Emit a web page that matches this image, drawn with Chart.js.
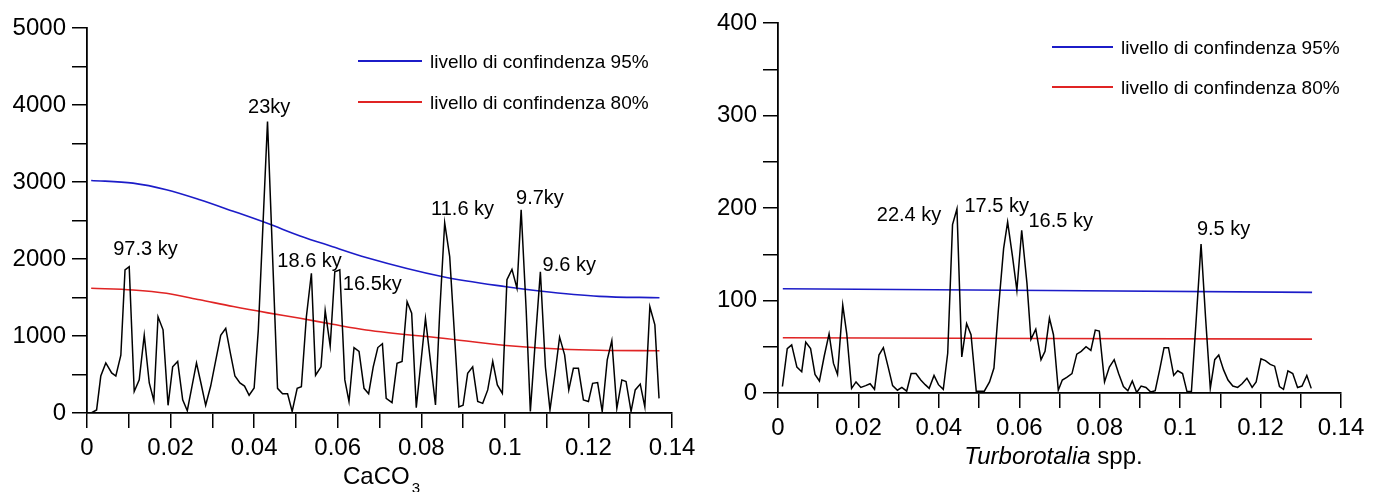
<!DOCTYPE html>
<html>
<head>
<meta charset="utf-8">
<script src="https://cdn.jsdelivr.net/npm/chart.js@4.4.1/dist/chart.umd.min.js"></script>
<style>
  body { margin: 0; background: #fff; }
  canvas { position: absolute; left: 0; top: 0; }
</style>
</head>
<body>
<canvas id="left" width="1381" height="492"></canvas>
<canvas id="right" width="1381" height="492"></canvas>
<script>
// CaCO3 spectrum
const leftFreq = [0.0010, 0.0023, 0.0033, 0.0045, 0.0059, 0.0069, 0.0081, 0.0091, 0.0101, 0.0113,
  0.0125, 0.0137, 0.0149, 0.0160, 0.0170, 0.0182, 0.0194, 0.0205, 0.0217, 0.0229,
  0.0240, 0.0251, 0.0262, 0.0273, 0.0284, 0.0296, 0.0308, 0.0320, 0.0332, 0.0343,
  0.0354, 0.0366, 0.0377, 0.0388, 0.0400, 0.0410, 0.0421, 0.0432, 0.0444, 0.0456,
  0.0468, 0.0480, 0.0491, 0.0503, 0.0513, 0.0525, 0.0537, 0.0547, 0.0560, 0.0570,
  0.0582, 0.0593, 0.0605, 0.0617, 0.0627, 0.0639, 0.0651, 0.0663, 0.0674, 0.0685,
  0.0696, 0.0707, 0.0716, 0.0730, 0.0742, 0.0754, 0.0766, 0.0777, 0.0788, 0.0799,
  0.0810, 0.0822, 0.0834, 0.0844, 0.0856, 0.0868, 0.0879, 0.0890, 0.0900, 0.0911,
  0.0923, 0.0935, 0.0947, 0.0959, 0.0971, 0.0982, 0.0994, 0.1005, 0.1017, 0.1029,
  0.1039, 0.1051, 0.1061, 0.1073, 0.1085, 0.1097, 0.1108, 0.1120, 0.1131, 0.1143,
  0.1153, 0.1164, 0.1176, 0.1188, 0.1200, 0.1210, 0.1222, 0.1233, 0.1245, 0.1256,
  0.1268, 0.1280, 0.1290, 0.1302, 0.1312, 0.1324, 0.1335, 0.1347, 0.1359, 0.1369];
const leftPower = [0, 40, 480, 650, 520, 480, 750, 1860, 1900, 280,
  430, 1010, 390, 160, 1250, 1080, 100, 600, 670, 170,
  30, 340, 650, 380, 100, 350, 680, 1010, 1100, 780,
  480, 390, 350, 230, 325, 1080, 2430, 3785, 2050, 320,
  250, 250, 20, 320, 340, 1250, 1815, 490, 600, 1330,
  870, 1835, 1860, 430, 150, 850, 800, 320, 250, 600,
  850, 900, 190, 135, 645, 670, 1445, 1295, 70, 650,
  1230, 670, 105, 1295, 2470, 2030, 1055, 80, 100, 515,
  600, 150, 125, 300, 670, 365, 255, 1730, 1865, 1620,
  2640, 1340, 20, 950, 1835, 600, 40, 510, 985, 755,
  300, 580, 580, 170, 150, 385, 395, 20, 690, 940,
  60, 430, 410, 20, 300, 375, 80, 1380, 1145, 190];
const leftConfFreq = [0.001, 0.011, 0.019, 0.027, 0.035, 0.0433, 0.051, 0.0588, 0.0668, 0.0852, 0.1003, 0.1083, 0.1226, 0.137];
const leftConf95 = [3020, 2985, 2900, 2770, 2620, 2460, 2300, 2160, 2020, 1770, 1640, 1585, 1515, 1497];
const leftConf80 = [1620, 1598, 1555, 1470, 1382, 1300, 1230, 1152, 1078, 970, 877, 845, 815, 809];
const leftXTicks = ['0', '0.02', '0.04', '0.06', '0.08', '0.1', '0.12', '0.14'];
const leftYTicks = ['0', '1000', '2000', '3000', '4000', '5000'];

// Turborotalia spp. spectrum
const rightFreq = [0.0011, 0.0023, 0.0034, 0.0047, 0.0059, 0.0069, 0.0081, 0.0092, 0.0103, 0.0115,
  0.0127, 0.0138, 0.0148, 0.0161, 0.0171, 0.0183, 0.0194, 0.0206, 0.0218, 0.0229,
  0.0240, 0.0251, 0.0262, 0.0274, 0.0285, 0.0297, 0.0308, 0.0320, 0.0331, 0.0343,
  0.0355, 0.0366, 0.0376, 0.0388, 0.0399, 0.0411, 0.0422, 0.0434, 0.0445, 0.0457,
  0.0469, 0.0480, 0.0493, 0.0503, 0.0513, 0.0526, 0.0537, 0.0548, 0.0561, 0.0571,
  0.0583, 0.0594, 0.0606, 0.0619, 0.0629, 0.0641, 0.0654, 0.0664, 0.0675, 0.0685,
  0.0697, 0.0707, 0.0718, 0.0731, 0.0743, 0.0754, 0.0766, 0.0778, 0.0789, 0.0799,
  0.0812, 0.0824, 0.0836, 0.0847, 0.0859, 0.0870, 0.0881, 0.0892, 0.0903, 0.0915,
  0.0927, 0.0938, 0.0949, 0.0960, 0.0971, 0.0984, 0.0994, 0.1006, 0.1017, 0.1028,
  0.1040, 0.1052, 0.1063, 0.1075, 0.1086, 0.1096, 0.1108, 0.1119, 0.1131, 0.1143,
  0.1154, 0.1166, 0.1179, 0.1189, 0.1201, 0.1212, 0.1224, 0.1235, 0.1247, 0.1257,
  0.1268, 0.1280, 0.1292, 0.1303, 0.1315, 0.1326];
const rightPower = [7, 48, 52, 28, 23, 55, 48, 20, 13, 40,
  64, 32, 20, 95, 64, 5, 12, 6, 8, 10,
  4, 41, 49, 28, 8, 3, 6, 2, 21, 21,
  14, 9, 5, 19, 9, 4, 43, 182, 199, 39,
  75, 63, 2, 2, 2, 12, 27, 90, 156, 185,
  148, 111, 176, 119, 58, 69, 36, 45, 81, 63,
  3, 14, 17, 21, 42, 45, 50, 46, 68, 67,
  12, 28, 36, 21, 7, 2.5, 13, 0.5, 7.5, 6,
  1, 2.5, 25, 49, 49, 19, 24, 21, 1.5, 1.5,
  80, 161, 83, 5, 36, 41, 25, 14, 7.5, 6,
  10, 16, 6, 12, 37, 35, 31, 29, 7, 4,
  24, 21, 6, 7.5, 19, 5];
const rightConfFreq = [0.0012, 0.1328];
const rightConf95 = [112.7, 108.8];
const rightConf80 = [59.8, 58.2];
const rightXTicks = ['0', '0.02', '0.04', '0.06', '0.08', '0.1', '0.12', '0.14'];
const rightYTicks = ['0', '100', '200', '300', '400'];

const legend95 = 'livello di confindenza 95%';
const legend80 = 'livello di confindenza 80%';

const FONT = '"Liberation Sans", Arial, sans-serif';

function pts(xs, ys) {
  return xs.map((x, i) => ({ x: x, y: ys[i] }));
}

const deco = {
  id: 'deco',
  afterDraw(chart, args, o) {
    const ctx = chart.ctx;
    const xs = chart.scales.x, ys = chart.scales.y;
    ctx.save();
    ctx.fillStyle = '#000';
    ctx.textBaseline = 'alphabetic';
    ctx.textAlign = 'left';

    ctx.font = '20px ' + FONT;
    o.peaks.forEach(p => {
      ctx.fillText(p.text, xs.getPixelForValue(p.x), ys.getPixelForValue(p.y));
    });

    chart.data.datasets.filter(d => d.inLegend).forEach((d, i) => {
      const y = o.legendY + i * o.legendGap;
      ctx.strokeStyle = d.borderColor;
      ctx.lineWidth = 2;
      ctx.beginPath();
      ctx.moveTo(o.legendX, y);
      ctx.lineTo(o.legendX + o.legendLen, y);
      ctx.stroke();
      ctx.font = '19px ' + FONT;
      ctx.fillText(d.label, o.legendX + o.legendLen + 8, y + 7);
    });

    // axis title, made of pieces (subscript / italic)
    const base = chart.chartArea.bottom + 71;
    let w = 0;
    const parts = o.title.map(t => {
      const f = (t.italic ? 'italic ' : '') + (t.sub ? 15 : 24) + 'px ' + FONT;
      ctx.font = f;
      const m = ctx.measureText(t.text).width;
      const r = { t: t, f: f, w: m };
      w += m + (t.sub ? 2 : 0);
      return r;
    });
    let x = (chart.chartArea.left + chart.chartArea.right) / 2 + o.titleShift - w / 2;
    parts.forEach(p => {
      ctx.font = p.f;
      if (p.t.sub) x += 2;
      ctx.fillText(p.t.text, x, base + (p.t.sub ? 9 : 0));
      x += p.w;
    });
    ctx.restore();
  }
};

function axis(min, max, step, labels, fit) {
  return {
    type: 'linear',
    min: min,
    max: max,
    ticks: {
      stepSize: step,
      autoSkip: false,
      maxRotation: 0,
      color: '#000',
      padding: 6,
      font: { size: 24, family: FONT },
      callback: (v, i) => (i % 2 === 0 ? labels[i / 2] : '')
    },
    grid: { display: true, drawOnChartArea: false, drawTicks: true, tickLength: 15, color: '#000', lineWidth: 1.5 },
    border: { display: true, color: '#000', width: 1.8 },
    afterFit: fit
  };
}

function makeChart(id, d, layout, deco_opts) {
  return new Chart(document.getElementById(id), {
    type: 'line',
    data: {
      datasets: [
        { label: 'spectrum', data: pts(d.freq, d.power), borderColor: '#000', borderWidth: 1.5, pointRadius: 0, tension: 0 },
        { label: legend95, inLegend: true, data: pts(d.confFreq, d.conf95), borderColor: '#1c1cc8', borderWidth: 1.6, pointRadius: 0, cubicInterpolationMode: 'monotone' },
        { label: legend80, inLegend: true, data: pts(d.confFreq, d.conf80), borderColor: '#e02424', borderWidth: 1.6, pointRadius: 0, cubicInterpolationMode: 'monotone' }
      ]
    },
    options: {
      responsive: false,
      animation: false,
      devicePixelRatio: 1,
      layout: { padding: layout.padding },
      plugins: { legend: { display: false }, tooltip: { enabled: false }, deco: deco_opts },
      scales: {
        x: axis(0, 0.14, 0.01, d.xTicks, s => { s.height = layout.xh; }),
        y: axis(0, d.ymax, d.ystep, d.yTicks, s => { s.width = layout.yw; })
      }
    },
    plugins: [deco]
  });
}

makeChart('left',
  { freq: leftFreq, power: leftPower, confFreq: leftConfFreq, conf95: leftConf95, conf80: leftConf80,
    xTicks: leftXTicks, yTicks: leftYTicks, ymax: 5000, ystep: 500 },
  { padding: { left: 0, top: 28, right: 709, bottom: 0 }, yw: 87, xh: 79 },
  { legendX: 358, legendY: 61, legendGap: 41, legendLen: 64, titleShift: 2,
    title: [{ text: 'CaCO' }, { text: '3', sub: true }],
    peaks: [
      { text: '97.3 ky', x: 0.00628, y: 2052 },
      { text: '23ky', x: 0.03854, y: 3900 },
      { text: '18.6 ky', x: 0.04555, y: 1900 },
      { text: '16.5ky', x: 0.06123, y: 1597 },
      { text: '11.6 ky', x: 0.08235, y: 2571 },
      { text: '9.7ky', x: 0.10267, y: 2714 },
      { text: '9.6 ky', x: 0.10902, y: 1848 }
    ] });

makeChart('right',
  { freq: rightFreq, power: rightPower, confFreq: rightConfFreq, conf95: rightConf95, conf80: rightConf80,
    xTicks: rightXTicks, yTicks: rightYTicks, ymax: 400, ystep: 50 },
  { padding: { left: 691, top: 23, right: 40, bottom: 20 }, yw: 87, xh: 79 },
  { legendX: 1052, legendY: 47, legendGap: 40, legendLen: 61, titleShift: -6,
    title: [{ text: 'Turborotalia', italic: true }, { text: ' spp.' }],
    peaks: [
      { text: '22.4 ky', x: 0.02456, y: 186 },
      { text: '17.5 ky', x: 0.04636, y: 196 },
      { text: '16.5 ky', x: 0.06228, y: 180 },
      { text: '9.5 ky', x: 0.10417, y: 171 }
    ] });
</script>
</body>
</html>
